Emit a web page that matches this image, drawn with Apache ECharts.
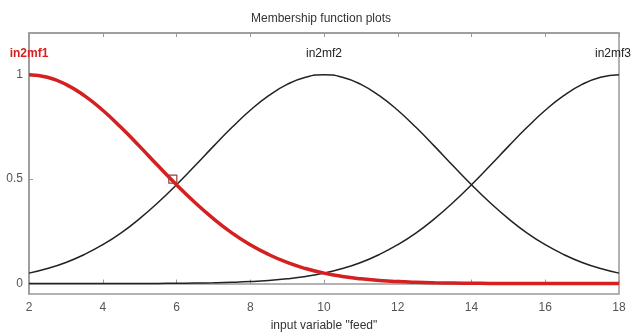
<!DOCTYPE html>
<html><head><meta charset="utf-8">
<script src="https://cdn.jsdelivr.net/npm/echarts@6/dist/echarts.min.js"></script>
<style>html,body{margin:0;padding:0;background:#fff}#c{width:642px;height:332px}</style>
</head><body><div id="c"></div>
<script>
const xs = [2,2.5,3,3.5,4,4.5,5,5.5,6,6.5,7,7.5,8,8.5,9,9.5,10,10.5,11,11.5,12,12.5,13,13.5,14,14.5,15,15.5,16,16.5,17,17.5,18];
const mf1 = [1,0.988,0.954,0.900,0.830,0.747,0.657,0.564,0.473,0.388,0.311,0.243,0.186,0.139,0.101,0.072,0.050,0.034,0.0227,0.0147,0.0093,0.0058,0.0035,0.0021,0.0012,0.0007,0.0004,0.0002,0.0001,0,0,0,0];
const mf2 = [0.050,0.072,0.101,0.139,0.186,0.243,0.311,0.388,0.473,0.564,0.657,0.747,0.830,0.900,0.954,0.988,1,0.988,0.954,0.900,0.830,0.747,0.657,0.564,0.473,0.388,0.311,0.243,0.186,0.139,0.101,0.072,0.050];
const mf3 = [0,0,0,0,0.0001,0.0002,0.0004,0.0007,0.0012,0.0021,0.0035,0.0058,0.0093,0.0147,0.0227,0.034,0.050,0.072,0.101,0.139,0.186,0.243,0.311,0.388,0.473,0.564,0.657,0.747,0.830,0.900,0.954,0.988,1];
const names = ['in2mf1','in2mf2','in2mf3'];
const centers = [2,10,18];
const yTicks = [0,0.5,1];
const yTickLabels = ['0','0.5','1'];

const pair = arr => xs.map((x,i)=>[x,arr[i]]);
const font = 'Liberation Sans, Arial, sans-serif';
const chart = echarts.init(document.getElementById('c'));
function lbl(i,color,bold,dx){
  return {symbol:'circle',symbolSize:0.1,silent:true,
    data:[{coord:[centers[i],1.1],label:{show:true,position:'inside',offset:[dx||0,0],formatter:names[i],color:color,fontWeight:bold?'bold':'normal',fontSize:12,fontFamily:font}}]};
}
chart.setOption({
  animation:false,
  backgroundColor:'#fff',
  title:{text:'Membership function plots',left:'center',top:8,textStyle:{fontSize:12,fontWeight:'normal',color:'#333',fontFamily:font}},
  grid:{left:29,right:23,top:33,bottom:38,outerBoundsMode:'none',containLabel:false,show:true,borderColor:'#999',borderWidth:1.5,backgroundColor:'#fff'},
  xAxis:[{type:'value',min:2,max:18,interval:2,position:'bottom',
    name:'input variable "feed"',nameLocation:'middle',nameGap:26,nameTextStyle:{fontSize:12,color:'#333',fontFamily:font},
    axisLine:{show:true,lineStyle:{color:'#999',width:1.5}},axisTick:{show:true,inside:true,length:4,lineStyle:{color:'#999'}},
    axisLabel:{color:'#555',fontSize:12,fontFamily:font,margin:8},splitLine:{show:false}},
   {type:'value',min:2,max:18,interval:2,position:'top',
    axisLine:{show:true,lineStyle:{color:'#999',width:1.5}},axisTick:{show:true,inside:true,length:4,lineStyle:{color:'#999'}},
    axisLabel:{show:false},splitLine:{show:false}}],
  yAxis:{type:'value',min:-0.05,max:1.2,
    axisLine:{show:true,lineStyle:{color:'#999',width:1.5}},
    axisTick:{show:true,inside:true,length:4,customValues:yTicks,lineStyle:{color:'#999'}},
    axisLabel:{color:'#555',fontSize:12,fontFamily:font,margin:6,customValues:yTicks,formatter:v=>yTickLabels[yTicks.indexOf(v)]},
    splitLine:{show:false}},
  series:[
    {type:'line',data:pair(mf2),smooth:true,showSymbol:false,lineStyle:{color:'#222',width:1.5},markPoint:lbl(1,'#222',false,0)},
    {type:'line',data:pair(mf3),smooth:true,showSymbol:false,lineStyle:{color:'#222',width:1.5},markPoint:lbl(2,'#222',false,-6)},
    {type:'line',data:pair(mf1),smooth:true,showSymbol:false,lineStyle:{color:'#d42020',width:3.5},z:3,
      markPoint:{silent:true,data:[
        {coord:[centers[0],1.1],symbol:'circle',symbolSize:0.1,label:{show:true,position:'inside',formatter:names[0],color:'#d42020',fontWeight:'bold',fontSize:12,fontFamily:font}},
        {coord:[5.9,0.5],symbol:'rect',symbolSize:8,itemStyle:{color:'rgba(0,0,0,0)',borderColor:'#a03a3a',borderWidth:1.2},label:{show:false}}
      ]}}
  ]
});
</script></body></html>
